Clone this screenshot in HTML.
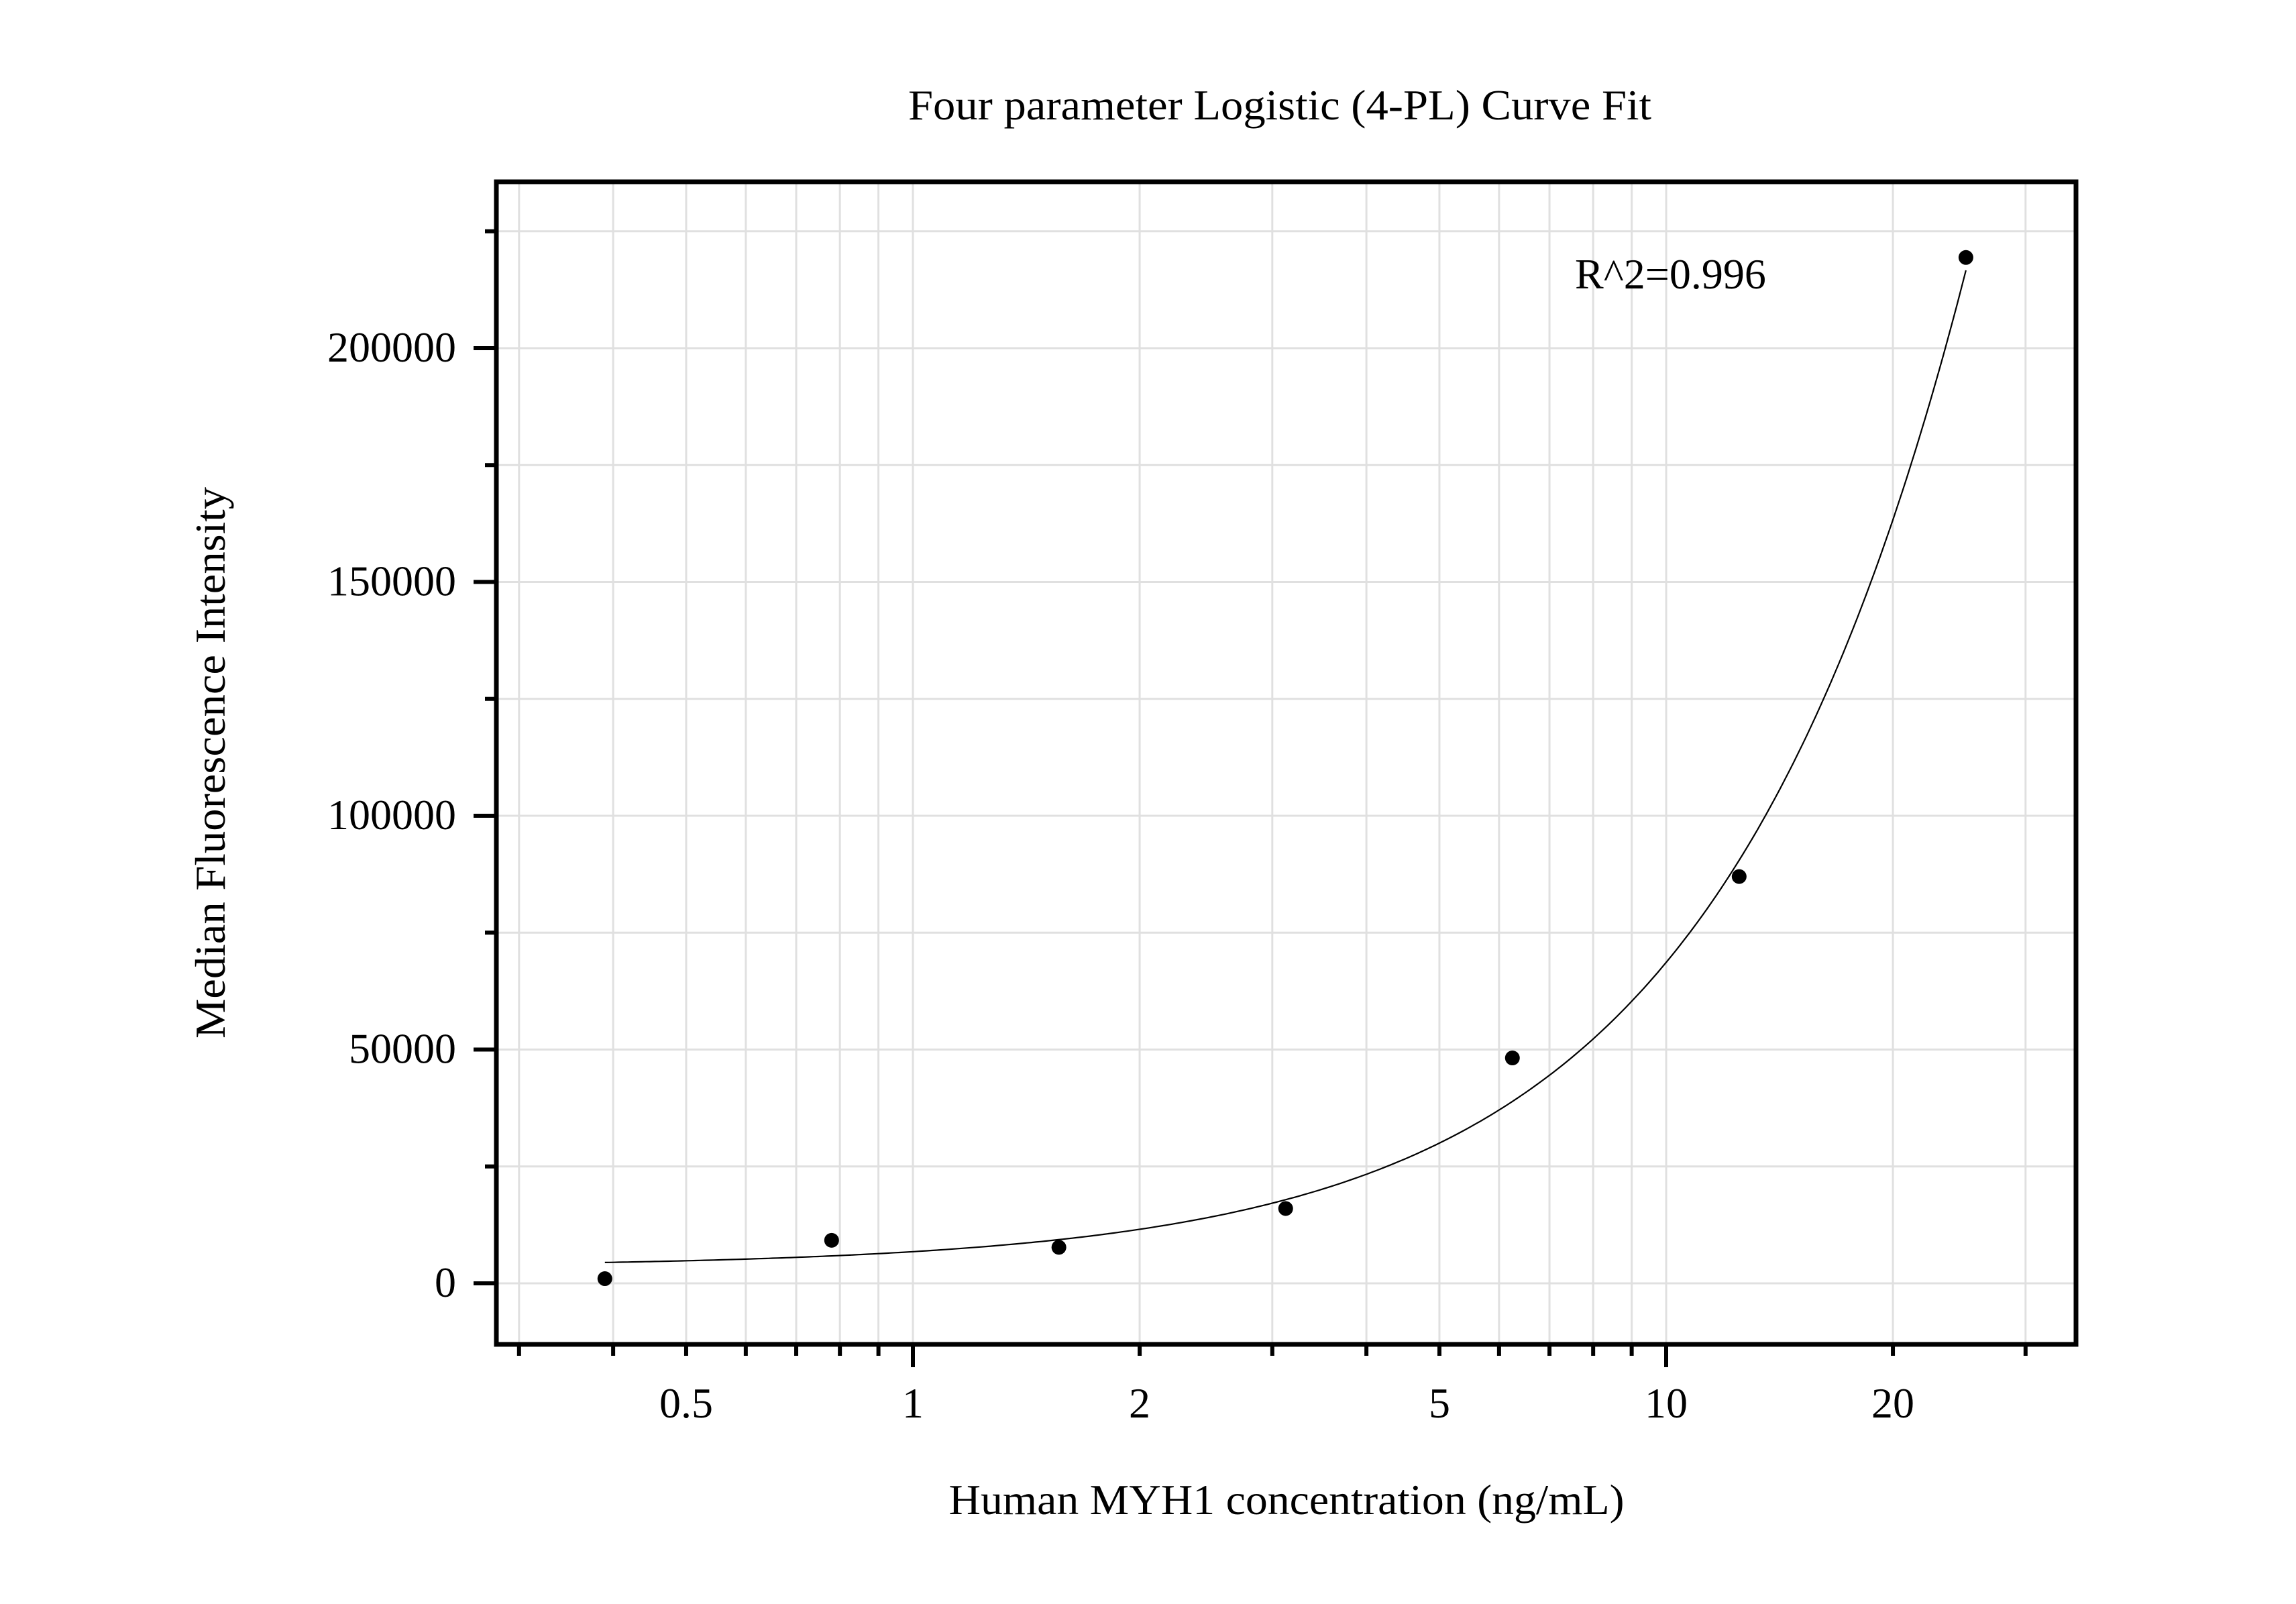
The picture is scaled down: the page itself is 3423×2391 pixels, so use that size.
<!DOCTYPE html>
<html><head><meta charset="utf-8"><style>html,body{margin:0;padding:0;background:#fff}svg{display:block}</style></head>
<body>
<svg id="chart" width="3423" height="2391" viewBox="0 0 3423 2391" xmlns="http://www.w3.org/2000/svg" font-family="'Liberation Serif', serif">
<rect width="3423" height="2391" fill="#fff"/>
<g id="grid"></g>
<g id="marks"></g>
<rect x="740" y="271" width="2355" height="1733" fill="none" stroke="#000" stroke-width="7"/>
<g id="axes"></g>
<text x="1908" y="178" text-anchor="middle" font-size="64" textLength="1108" lengthAdjust="spacingAndGlyphs">Four parameter Logistic (4-PL) Curve Fit</text>
<text x="1918" y="2257" text-anchor="middle" font-size="64" textLength="1007" lengthAdjust="spacingAndGlyphs">Human MYH1 concentration (ng/mL)</text>
<text x="0" y="0" transform="translate(335,1137) rotate(-90)" text-anchor="middle" font-size="64" textLength="822" lengthAdjust="spacingAndGlyphs">Median Fluorescence Intensity</text>
<text x="2348" y="430" font-size="64">R^2=0.996</text>
</svg>
<script>
const xValues = [0.39, 0.78, 1.5625, 3.125, 6.25, 12.5, 25];
const yValues = [1000, 9200, 7700, 16000, 48200, 87000, 219400];
const fitParams = [3500, 1.3, 1000, 26000000]; // a (bottom), b (slope), c (EC50), d (top)
const yTicks = [0, 50000, 100000, 150000, 200000];
const yMinor = [25000, 75000, 125000, 175000, 225000];
const xLabels = [0.5, 1, 2, 5, 10, 20];
const xMajor = [1, 10];
const xMinor = [0.3,0.4,0.5,0.6,0.7,0.8,0.9,2,3,4,5,6,7,8,9,20,30];

const NS = 'http://www.w3.org/2000/svg';
const L = 740, R = 3095, T = 271, B = 2004;
function xs(v){ return 1361 + Math.log10(v) * 1123; }
function ys(v){ return 1913 - v / 50000 * 348.5; }
function mk(tag, attrs, parent){ const e = document.createElementNS(NS, tag); for (const k in attrs) e.setAttribute(k, attrs[k]); parent.appendChild(e); return e; }
const grid = document.getElementById('grid'), axes = document.getElementById('axes'), marks = document.getElementById('marks');

xMinor.concat(xMajor).forEach(v => {
  const l = mk('line', {x1: xs(v), x2: xs(v), y1: T, y2: B, stroke: '#e0e0e0', 'stroke-width': 3}, grid);
  
  
});
yTicks.concat(yMinor).forEach(v => {
  const l = mk('line', {x1: L, x2: R, y1: ys(v), y2: ys(v), stroke: '#e0e0e0', 'stroke-width': 3}, grid);
  
  
});
yTicks.forEach(v => {
  const t = mk('line', {x1: 706, x2: L, y1: ys(v), y2: ys(v), stroke: '#000', 'stroke-width': 6}, axes);
  
  
  const tx = mk('text', {x: 680, y: ys(v) + 20, 'text-anchor': 'end', 'font-size': 64}, axes);
  tx.textContent = String(v);
  
  
});
yMinor.forEach(v => {
  const t = mk('line', {x1: 723, x2: L, y1: ys(v), y2: ys(v), stroke: '#000', 'stroke-width': 6}, axes);
  
  
});
xMinor.forEach(v => {
  const t = mk('line', {x1: xs(v), x2: xs(v), y1: B, y2: 2021, stroke: '#000', 'stroke-width': 6}, axes);
  
  
});
xMajor.forEach(v => {
  const t = mk('line', {x1: xs(v), x2: xs(v), y1: B, y2: 2038, stroke: '#000', 'stroke-width': 6}, axes);
  
  
});
xLabels.forEach(v => {
  const tx = mk('text', {x: xs(v), y: 2113, 'text-anchor': 'middle', 'font-size': 64}, axes);
  tx.textContent = String(v);
  
  
});

function fit(x){ const [a,b,c,d] = fitParams; return d + (a - d) / (1 + Math.pow(x / c, b)); }
let dstr = '';
const x0 = xValues[0], x1 = xValues[xValues.length - 1];
for (let i = 0; i <= 300; i++) {
  const x = Math.pow(10, Math.log10(x0) + (Math.log10(x1) - Math.log10(x0)) * i / 300);
  dstr += (i ? 'L' : 'M') + xs(x).toFixed(1) + ',' + ys(fit(x)).toFixed(1);
}
const curve = mk('path', {d: dstr, fill: 'none', stroke: '#000', 'stroke-width': 2.2}, marks);


xValues.forEach((x, i) => {
  const c = mk('circle', {cx: xs(x), cy: ys(yValues[i]), r: 11, fill: '#000'}, marks);
  
  
});
</script>
</body></html>
